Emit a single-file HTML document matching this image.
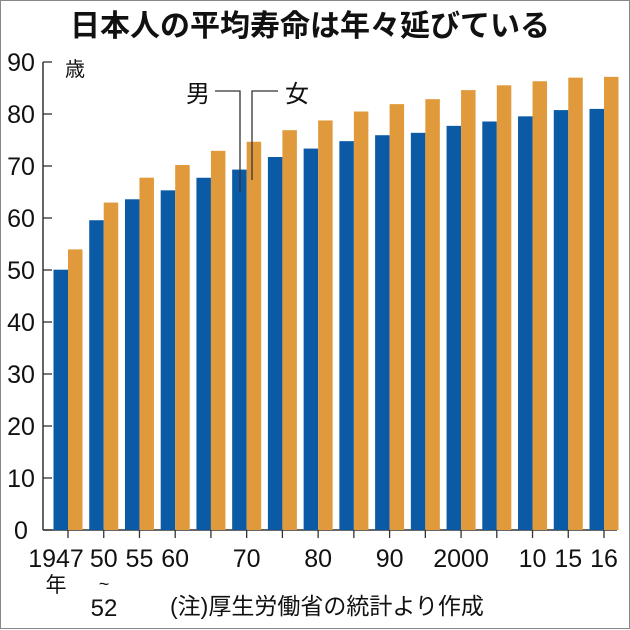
<!DOCTYPE html>
<html><head><meta charset="utf-8"><style>
body{margin:0;background:#fff}
svg{display:block}
text{font-family:"Liberation Sans Narrow","Liberation Sans","Noto Sans CJK JP",sans-serif;fill:#111}
.jp{font-family:"Liberation Sans","Noto Sans CJK JP",sans-serif}
</style></head><body>
<svg id="chart" width="630" height="630" viewBox="0 0 630 630">
<rect x="0.5" y="0.5" width="629" height="628" fill="#fff" stroke="#888"/>
<text class="jp" x="310" y="36" font-size="30" font-weight="bold" text-anchor="middle">日本人の平均寿命は年々延びている</text>
<g id="axes"></g><g id="bars"></g>
<text class="jp" x="65" y="76" font-size="20">歳</text>
<path d="M215 91H240V192 M278 91H252V180" fill="none" stroke="#333" stroke-width="1.3"/>
<text class="jp" x="186" y="102" font-size="24">男</text>
<text class="jp" x="285" y="102" font-size="24">女</text>
<text class="jp" x="56" y="592" font-size="21" text-anchor="middle">年</text>
<text x="104" y="590" font-size="18" text-anchor="middle">~</text>
<text x="104" y="616" font-size="24" text-anchor="middle">52</text>
<text class="jp" x="170" y="614" font-size="23">(注)厚生労働省の統計より作成</text>
</svg>
<script>
const categories=["1947","50","55","60","65","70","75","80","85","90","95","2000","05","10","15","16"];
const tickLabels=["1947","50","55","60","","70","","80","","90","","2000","","10","15","16"];
const male=[50.06,59.57,63.60,65.32,67.74,69.31,71.73,73.35,74.78,75.92,76.38,77.72,78.56,79.55,80.75,80.98];
const female=[53.96,62.97,67.75,70.19,72.92,74.66,76.89,78.76,80.48,81.90,82.85,84.60,85.52,86.30,86.99,87.14];
const yTicks=[0,10,20,30,40,50,60,70,80,90];
const NS="http://www.w3.org/2000/svg";
const y=v=>530-v*5.2;
const x=i=>68+i*(604-68)/(categories.length-1);
const bw=14.5;
const axes=document.getElementById('axes'),bars=document.getElementById('bars');
function mk(tag,attrs,parent){const e=document.createElementNS(NS,tag);for(const k in attrs)e.setAttribute(k,attrs[k]);parent.appendChild(e);return e;}
const yl=mk('line',{x1:43,y1:y(90),x2:43,y2:530,stroke:'#333','stroke-width':1.5},axes);


const xl=mk('line',{x1:43,y1:530,x2:617,y2:530,stroke:'#333','stroke-width':1.5},axes);


yTicks.forEach(v=>{
 const t=mk('line',{x1:43,y1:y(v),x2:52,y2:y(v),stroke:'#333','stroke-width':1.3},axes);
 
 
 const l=mk('text',{x:21,y:y(v)+9,'font-size':25,'text-anchor':'middle'},axes);
 l.textContent=v;
 
 
});
categories.forEach((c,i)=>{
 const cx=x(i);
 const b=mk('rect',{x:cx-bw,y:y(male[i]),width:bw,height:530-y(male[i]),fill:'#0a5aa6'},bars);
 
 
 const f=mk('rect',{x:cx,y:y(female[i]),width:bw,height:530-y(female[i]),fill:'#e09a3c'},bars);
 
 
 const t=mk('line',{x1:cx,y1:530,x2:cx,y2:538,stroke:'#333','stroke-width':1.3},axes);
 
 
 if(tickLabels[i]){
  const l=mk('text',{x:cx-(i==0?12:0),y:567,'font-size':25,'text-anchor':'middle'},axes);
  l.textContent=tickLabels[i];
  
  
 }
});
</script>
</body></html>
